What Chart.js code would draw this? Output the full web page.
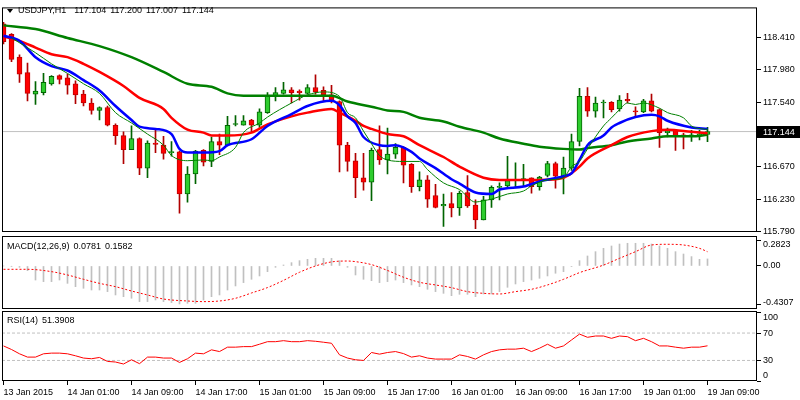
<!DOCTYPE html>
<html>
<head>
<meta charset="utf-8">
<title>USDJPY H1</title>
<script src="https://cdn.jsdelivr.net/npm/chart.js@4.4.1/dist/chart.umd.min.js"></script>
<style>
  html, body { margin: 0; padding: 0; background: #fff; }
  #wrap { position: relative; width: 800px; height: 400px; overflow: hidden; background: #fff; }
  #wrap canvas { position: absolute; left: 0; top: 0; }
  .lbl { position: absolute; font-family: "Liberation Sans", Arial, sans-serif; font-size: 9px; line-height: 11px; color: #000; white-space: pre; word-spacing: 1.5px; }
  #tri { position: absolute; left: 7px; top: 9px; width: 0; height: 0; border-left: 3px solid transparent; border-right: 3px solid transparent; border-top: 4px solid #000; }
</style>
</head>
<body>
<div id="wrap">
  <canvas id="cMain" width="800" height="400"></canvas>
  <canvas id="cMacd" width="800" height="400"></canvas>
  <canvas id="cRsi" width="800" height="400"></canvas>
  <div id="tri"></div>
  <div class="lbl" id="hdr" style="left:18px;top:5px"></div>
  <div class="lbl" id="macdLbl" style="left:7px;top:241px"></div>
  <div class="lbl" id="rsiLbl" style="left:7px;top:315px"></div>
</div>
<script>
// ---------------- DATA ----------------
const symbol = 'USDJPY';
const period = 'H1';

const open = [118.60,118.46,118.15,117.94,117.65,117.67,117.79,117.90,117.87,117.79,
117.65,117.53,117.43,117.47,117.23,117.09,116.90,117.05,116.65,116.99,
116.96,116.86,116.87,116.30,116.57,116.89,116.74,117.01,116.96,117.24,
117.23,117.30,117.23,117.40,117.63,117.66,117.71,117.69,117.66,117.74,
117.70,117.64,117.55,116.96,116.75,116.52,116.46,116.90,116.76,116.84,
116.93,116.70,116.40,116.49,116.28,116.14,116.17,116.11,116.32,116.15,
115.95,116.22,116.39,116.41,116.48,116.48,116.52,116.40,116.55,116.71,
116.54,116.65,117.01,117.62,117.42,117.53,117.54,117.45,117.58,117.42,
117.41,117.56,117.44,117.13,117.16,117.10,117.08,117.10,117.104];

const high = [118.62,118.47,118.18,118.07,117.82,117.93,117.90,117.91,117.92,117.83,
117.70,117.59,117.48,117.49,117.25,117.14,117.22,117.06,117.02,117.16,
117.08,117.01,116.88,116.67,116.89,116.90,117.07,117.11,117.35,117.36,
117.36,117.31,117.45,117.67,117.74,117.81,117.74,117.71,117.78,117.91,
117.75,117.77,117.56,117.00,116.85,116.85,116.92,117.22,117.19,116.98,
116.94,116.71,116.60,116.55,116.43,116.30,116.32,116.34,116.55,116.22,
116.27,116.41,116.45,116.81,116.72,116.70,116.52,116.54,116.74,116.73,
116.80,117.11,117.73,117.74,117.61,117.57,117.55,117.63,117.66,117.48,
117.58,117.65,117.45,117.19,117.17,117.12,117.16,117.16,117.200];

const low = [118.33,118.09,117.81,117.56,117.51,117.64,117.77,117.79,117.65,117.52,
117.49,117.38,117.30,117.22,116.97,116.71,116.90,116.56,116.52,116.86,
116.77,116.81,116.04,116.19,116.44,116.68,116.67,116.83,116.95,117.22,
117.23,117.13,117.20,117.39,117.56,117.65,117.53,117.57,117.65,117.65,
117.55,117.53,116.60,116.61,116.25,116.35,116.21,116.70,116.57,116.78,
116.45,116.32,116.34,116.12,116.11,115.86,115.99,116.01,116.12,115.83,
115.95,116.12,116.22,116.40,116.39,116.40,116.31,116.35,116.53,116.38,
116.30,116.62,116.95,117.35,117.34,117.33,117.41,117.42,117.53,117.35,
117.40,117.41,116.93,117.07,116.89,116.91,117.01,117.03,117.007];

const close = [118.36,118.12,117.92,117.66,117.69,117.81,117.89,117.85,117.77,117.64,
117.53,117.43,117.47,117.23,117.09,116.90,117.05,116.65,116.99,116.97,
116.85,116.86,116.30,116.57,116.88,116.73,117.01,116.96,117.23,117.24,
117.29,117.23,117.41,117.63,117.67,117.71,117.67,117.67,117.74,117.68,
117.64,117.55,116.96,116.74,116.52,116.46,116.89,116.76,116.84,116.93,
116.69,116.40,116.49,116.23,116.12,116.16,116.11,116.31,116.14,115.95,
116.22,116.39,116.40,116.48,116.49,116.51,116.40,116.53,116.71,116.54,
116.65,117.01,117.62,117.42,117.53,117.54,117.44,117.57,117.56,117.41,
117.56,117.42,117.13,117.15,117.09,117.07,117.10,117.10,117.144];

// moving averages, read at bar positions
const fastIdx = [1,4,6,8,10,12,14,16,18,20,21,23,25,26,27,29,30,32,33,36,38,40,42,43,44,45,46,47,48,50,52,53,55,57,59,60,61,63,65,66,68,70,71,72,73,75,76,77,78,79,80,82,83,85,86,88];
const fastVal = [118.41,118.21,118.06,117.93,117.79,117.66,117.40,117.26,117.11,116.96,116.82,116.75,116.76,116.75,116.80,116.93,117.13,117.26,117.34,117.53,117.64,117.68,117.62,117.40,117.33,117.15,116.98,116.82,116.76,116.74,116.74,116.63,116.45,116.36,116.19,116.21,116.23,116.30,116.34,116.41,116.49,116.52,116.67,116.74,116.91,117.22,117.33,117.44,117.53,117.51,117.53,117.46,117.40,117.33,117.22,117.17];

const blueIdx = [0,2,4,6,8,10,12,14,16,17,19,21,22,23,25,27,28,31,33,36,38,41,42,43,44,45,47,48,49,51,52,54,56,57,59,61,62,65,67,70,71,72,73,75,76,77,79,81,82,83,86,88];
const blueVal = [118.44,118.37,118.15,118.03,117.97,117.84,117.70,117.49,117.30,117.21,117.18,117.11,116.91,116.86,116.86,116.88,116.96,117.04,117.22,117.38,117.49,117.56,117.50,117.35,117.26,117.07,116.96,116.95,116.96,116.87,116.78,116.65,116.50,116.44,116.32,116.30,116.36,116.40,116.47,116.54,116.58,116.76,116.96,117.09,117.20,117.26,117.34,117.37,117.35,117.29,117.20,117.18];

const redIdx = [0,2,4,6,8,10,12,15,17,20,21,23,25,26,28,31,33,36,38,41,42,44,45,46,48,50,52,55,57,60,62,65,67,70,71,72,73,76,78,81,83,86,88];
const redVal = [118.43,118.37,118.28,118.19,118.15,118.06,117.95,117.76,117.60,117.45,117.33,117.17,117.13,117.09,117.09,117.13,117.24,117.35,117.40,117.45,117.40,117.29,117.22,117.18,117.11,117.08,116.96,116.80,116.67,116.52,116.49,116.49,116.49,116.52,116.58,116.67,116.78,116.96,117.07,117.15,117.17,117.14,117.12];

const slowIdx = [0,4,8,12,16,20,23,26,28,30,36,41,43,46,48,50,52,55,57,60,62,65,67,70,72,73,76,78,81,83,86,88];
const slowVal = [118.58,118.53,118.41,118.30,118.15,117.95,117.79,117.75,117.66,117.63,117.63,117.63,117.55,117.48,117.43,117.41,117.33,117.28,117.21,117.13,117.05,116.98,116.94,116.91,116.90,116.92,116.96,117.01,117.05,117.08,117.08,117.10];

const priceTicks = [118.410, 117.980, 117.540, 117.110, 116.670, 116.230, 115.790];

// MACD(12,26,9)
const macdHist = [0.000,-0.003,-0.015,-0.052,-0.156,-0.174,-0.174,-0.156,-0.193,-0.230,
-0.248,-0.267,-0.267,-0.285,-0.322,-0.341,-0.359,-0.396,-0.396,-0.378,
-0.396,-0.407,-0.422,-0.415,-0.415,-0.378,-0.341,-0.322,-0.267,-0.222,
-0.185,-0.148,-0.111,-0.063,-0.015,0.011,0.037,0.059,0.074,0.085,
0.085,0.085,0.059,-0.015,-0.100,-0.148,-0.163,-0.185,-0.174,-0.156,
-0.185,-0.211,-0.230,-0.259,-0.285,-0.304,-0.330,-0.315,-0.315,-0.341,
-0.311,-0.311,-0.285,-0.237,-0.200,-0.174,-0.156,-0.137,-0.111,-0.081,
-0.063,-0.007,0.059,0.111,0.159,0.196,0.222,0.244,0.252,0.252,
0.252,0.244,0.222,0.196,0.159,0.133,0.104,0.074,0.0781];
const sigIdx = [0,3,6,8,10,12,14,16,18,20,23,25,27,29,31,33,35,37,39,41,43,44,46,48,50,52,54,56,58,60,62,64,66,68,70,72,75,77,79,81,83,85,87,88];
const sigVal = [-0.037,-0.037,-0.063,-0.100,-0.148,-0.193,-0.230,-0.278,-0.322,-0.367,-0.389,-0.396,-0.389,-0.359,-0.300,-0.240,-0.160,-0.070,0.000,0.045,0.055,0.048,0.015,-0.050,-0.125,-0.181,-0.211,-0.241,-0.285,-0.304,-0.311,-0.285,-0.259,-0.211,-0.148,-0.074,0.010,0.085,0.159,0.233,0.241,0.233,0.196,0.1582];
const macdTicks = [0.2823, 0, -0.4307];
const macdTickLabels = ['0.2823', '0.00', '-0.4307'];

// RSI(14)
const rsi = [51.2,46.0,39.7,34.9,34.9,39.7,40.7,40.7,39.7,36.8,
33.5,32.5,34.4,28.6,27.7,24.8,31.0,25.3,34.9,34.9,
33.5,33.5,27.1,32.5,40.7,39.7,45.5,43.0,49.4,49.4,
50.2,50.2,53.7,57.4,57.4,58.9,57.4,57.4,58.9,58.0,
56.6,55.1,38.2,33.5,31.0,30.0,41.6,39.2,41.6,43.0,
40.0,34.9,36.8,33.5,32.0,32.0,32.0,38.2,35.8,32.0,
38.2,43.0,45.5,46.5,46.5,47.9,43.0,47.9,53.7,47.9,
51.2,59.9,68.5,63.8,65.7,65.7,62.3,65.7,64.7,58.9,
62.3,57.4,51.2,51.2,49.4,47.9,49.4,49.4,51.3908];
const rsiLevels = [70, 30];
const rsiTicks = [100, 70, 30, 0];

const timeIdx = [0,8,16,24,32,40,48,56,64,72,80,88];
const timeLabels = ['13 Jan 2015','14 Jan 01:00','14 Jan 09:00','14 Jan 17:00','15 Jan 01:00','15 Jan 09:00','15 Jan 17:00','16 Jan 01:00','16 Jan 09:00','16 Jan 17:00','19 Jan 01:00','19 Jan 09:00'];

// ---------------- SETUP ----------------
const FONT = { family: '"Liberation Sans", Arial, sans-serif', size: 9 };
Chart.defaults.font.family = FONT.family;
Chart.defaults.font.size = FONT.size;
Chart.defaults.color = '#000';

const X_MIN = -0.1875, X_MAX = 94.1875;
const last = close.length - 1;

const lineData = (ix, v) => ix.map((x, k) => ({ x, y: v[k] }));
const seriesData = v => v.map((y, i) => ({ x: i, y }));
const allIdx = close.map((_, i) => i);
const bull = allIdx.filter(i => close[i] >= open[i]);
const bear = allIdx.filter(i => close[i] < open[i]);
const rangeData = (list, a, b) => list.map(i => ({ x: i, y: [a[i], b[i]] }));
const flat = v => [{ x: X_MIN, y: v }, { x: X_MAX, y: v }];

document.getElementById('hdr').textContent =
  symbol + ',' + period + '  ' + open[last].toFixed(3) + ' ' + high[last].toFixed(3) + ' ' + low[last].toFixed(3) + ' ' + close[last].toFixed(3);
document.getElementById('macdLbl').textContent =
  'MACD(12,26,9) ' + macdHist[last].toFixed(4) + ' ' + sigVal[sigVal.length - 1].toFixed(4);
document.getElementById('rsiLbl').textContent = 'RSI(14) ' + rsi[last].toFixed(4);

const framePlugin = {
  id: 'frame',
  afterDraw(chart) {
    const { ctx, chartArea: a } = chart;
    ctx.save();
    ctx.strokeStyle = '#000';
    ctx.lineWidth = 1;
    ctx.strokeRect(a.left + 0.5, a.top + 0.5, a.right - a.left - 1, a.bottom - a.top - 1);
    ctx.restore();
  }
};

const labelShift = {
  id: 'labelShift',
  beforeDraw(chart, args, opts) {
    const s = chart.scales.y;
    if (!s || !opts || !opts.shifts) return;
    const items = s.getLabelItems();
    items.forEach((it, k) => {
      const d = opts.shifts[k];
      if (d && it.options && it.options.translation) it.options.translation[1] += d;
    });
  }
};

const priceBox = {
  id: 'priceBox',
  afterDraw(chart) {
    const { ctx, chartArea: a } = chart;
    const y = chart.scales.y.getPixelForValue(close[last]);
    ctx.save();
    ctx.fillStyle = '#000';
    ctx.fillRect(a.right, Math.round(y) - 6, chart.width - a.right, 12);
    ctx.fillStyle = '#fff';
    ctx.font = FONT.size + 'px ' + FONT.family;
    ctx.textBaseline = 'middle';
    ctx.textAlign = 'left';
    ctx.fillText(close[last].toFixed(3), a.right + 6, Math.round(y) + 0.5);
    ctx.restore();
  }
};

function rightAxis(min, max, tickVals, fmt) {
  return {
    position: 'right', min, max,
    afterBuildTicks: s => { s.ticks = tickVals.map(v => ({ value: v })); },
    afterFit: s => { s.width = 43; },
    ticks: { autoSkip: false, padding: 2, color: '#000', font: FONT, callback: fmt },
    grid: { drawOnChartArea: false, drawTicks: true, tickLength: 4, color: '#000', lineWidth: 1 },
    border: { display: false }
  };
}
const hiddenX = { type: 'linear', min: X_MIN, max: X_MAX, offset: false, grid: { offset: false }, display: false };
const baseOpts = { responsive: false, animation: false, devicePixelRatio: 1, events: [] };

// ---------------- MAIN PRICE CHART ----------------
new Chart(document.getElementById('cMain'), {
  type: 'bar',
  data: {
    datasets: [
      { type: 'line', label: 'MA fast', data: lineData(fastIdx, fastVal), borderColor: '#008000', borderWidth: 1, pointRadius: 0, cubicInterpolationMode: 'monotone', order: 0 },
      { type: 'line', label: 'MA blue', data: lineData(blueIdx, blueVal), borderColor: '#0000ff', borderWidth: 2.5, pointRadius: 0, cubicInterpolationMode: 'monotone', order: 1 },
      { type: 'line', label: 'MA red', data: lineData(redIdx, redVal), borderColor: '#ff0000', borderWidth: 2.5, pointRadius: 0, cubicInterpolationMode: 'monotone', order: 2 },
      { type: 'line', label: 'MA slow', data: lineData(slowIdx, slowVal), borderColor: '#008000', borderWidth: 2.5, pointRadius: 0, cubicInterpolationMode: 'monotone', order: 3 },
      { type: 'bar', label: 'Bull body', data: rangeData(bull, open, close), backgroundColor: '#2ecc2e', borderColor: '#006400', borderWidth: 1, borderSkipped: false, barThickness: 5, grouped: false, minBarLength: 1, order: 4 },
      { type: 'bar', label: 'Bear body', data: rangeData(bear, open, close), backgroundColor: '#ff0000', borderColor: '#c00000', borderWidth: 1, borderSkipped: false, barThickness: 5, grouped: false, minBarLength: 1, order: 4 },
      { type: 'bar', label: 'Bull wick', data: rangeData(bull, low, high), backgroundColor: '#006400', barThickness: 1, grouped: false, order: 5 },
      { type: 'bar', label: 'Bear wick', data: rangeData(bear, low, high), backgroundColor: '#b00000', barThickness: 1, grouped: false, order: 5 },
      { type: 'line', label: 'Price', data: flat(close[last]), borderColor: '#c0c0c0', borderWidth: 1, pointRadius: 0, order: 6 }
    ]
  },
  options: Object.assign({}, baseOpts, {
    layout: { padding: { left: 2, top: 2, right: 0, bottom: 168 } },
    plugins: { legend: { display: false }, tooltip: { enabled: false } },
    scales: {
      x: hiddenX,
      y: rightAxis(115.786, 118.823, priceTicks, v => Number(v).toFixed(3))
    }
  }),
  plugins: [framePlugin, priceBox]
});

// ---------------- MACD ----------------
new Chart(document.getElementById('cMacd'), {
  type: 'bar',
  data: {
    datasets: [
      { type: 'line', label: 'Signal', data: lineData(sigIdx, sigVal), borderColor: '#ff0000', borderWidth: 1, borderDash: [2, 2], pointRadius: 0, cubicInterpolationMode: 'monotone', order: 0 },
      { type: 'bar', label: 'MACD', data: seriesData(macdHist), backgroundColor: '#c0c0c0', barThickness: 1, grouped: false, order: 1 }
    ]
  },
  options: Object.assign({}, baseOpts, {
    layout: { padding: { left: 2, top: 236, right: 0, bottom: 91 } },
    plugins: { legend: { display: false }, tooltip: { enabled: false }, labelShift: { shifts: [4.4, 0, -2.7] } },
    scales: {
      x: hiddenX,
      y: rightAxis(-0.478, 0.333, macdTicks, (v, i) => macdTickLabels[i])
    }
  }),
  plugins: [framePlugin, labelShift]
});

// ---------------- RSI ----------------
new Chart(document.getElementById('cRsi'), {
  type: 'line',
  data: {
    datasets: [
      { label: 'RSI', data: seriesData(rsi), borderColor: '#ff0000', borderWidth: 1, pointRadius: 0, order: 0 },
      { label: 'Level 70', data: flat(rsiLevels[0]), borderColor: '#c0c0c0', borderWidth: 1, borderDash: [3, 2], pointRadius: 0, order: 1 },
      { label: 'Level 30', data: flat(rsiLevels[1]), borderColor: '#c0c0c0', borderWidth: 1, borderDash: [3, 2], pointRadius: 0, order: 1 }
    ]
  },
  options: Object.assign({}, baseOpts, {
    layout: { padding: { left: 2, top: 311, right: 0, bottom: 0 } },
    plugins: { legend: { display: false }, tooltip: { enabled: false }, labelShift: { shifts: [5.5, 0, 0, -5.7] } },
    scales: {
      x: {
        type: 'linear', min: X_MIN, max: X_MAX, position: 'bottom', offset: false,
        afterBuildTicks: s => { s.ticks = timeIdx.map(v => ({ value: v })); },
        afterFit: s => { s.height = 19; },
        ticks: { autoSkip: false, maxRotation: 0, minRotation: 0, align: 'start', padding: 2, color: '#000', font: FONT, callback: (v, i) => timeLabels[i] },
        grid: { drawOnChartArea: false, drawTicks: true, tickLength: 4, color: '#000', lineWidth: 1, offset: false },
        border: { display: false }
      },
      y: rightAxis(0, 102.2, rsiTicks, v => String(v))
    }
  }),
  plugins: [framePlugin, labelShift]
});
</script>
</body>
</html>
